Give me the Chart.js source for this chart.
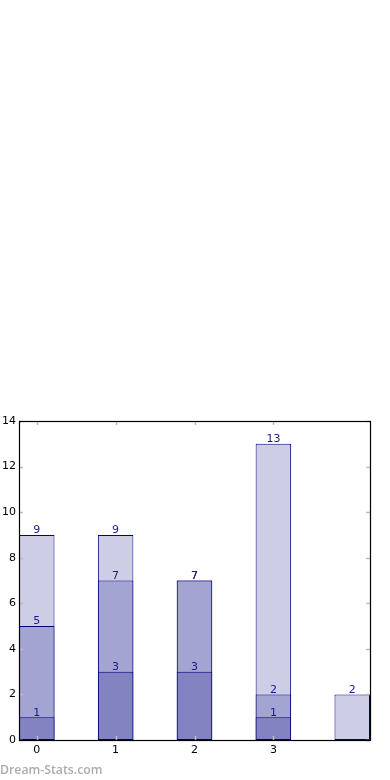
<!DOCTYPE html>
<html>
<head>
<meta charset="utf-8">
<script src="https://cdn.jsdelivr.net/npm/chart.js@4"></script>
<style>
  html, body { margin: 0; padding: 0; background: #fff; }
  #wrap { position: relative; width: 390px; height: 780px; }
  #mark { position: absolute; left: 0; top: 761px; font: 600 12.3px "Open Sans", sans-serif; color: #acacac; }
</style>
</head>
<body>
<div id="wrap">
  <canvas id="chart" width="390" height="780"></canvas>
  <div id="mark">Dream-Stats.com</div>
</div>
<script>
const positions = [0, 1, 2, 3, 4];
const xTickLabels = ['0', '1', '2', '3', ''];
const yTicks = [0, 2, 4, 6, 8, 10, 12, 14];
// cumulative heights, each bar drawn from zero and overlapped
const lowValues = [1, 3, 3, 1, null];
const midValues = [5, 7, 7, 2, null];
const topValues = [9, 9, 7, 13, 2];

const toPoints = vals => positions.map((x, i) => ({ x: x, y: vals[i] })).filter(p => p.y !== null);

const frameAndLabels = {
  id: 'frameAndLabels',
  afterDatasetsDraw(chart) {
    const { ctx, chartArea: a, scales } = chart;
    ctx.save();
    // value labels
    ctx.fillStyle = '#1a1a8c';
    ctx.font = '11px "DejaVu Sans", sans-serif';
    ctx.textAlign = 'center';
    ctx.textBaseline = 'bottom';
    chart.data.datasets.forEach((ds, di) => {
      chart.getDatasetMeta(di).data.forEach((bar, i) => {
        ctx.fillText(String(ds.data[i].y), bar.x, bar.y + 1);
      });
    });
    // inward ticks
    ctx.strokeStyle = '#bdbdbd';
    ctx.lineWidth = 1.5;
    const len = 4;
    yTicks.forEach(v => {
      const y = Math.round(scales.y.getPixelForValue(v)) + 0.5;
      ctx.beginPath();
      ctx.moveTo(a.left, y); ctx.lineTo(a.left + len, y);
      ctx.moveTo(a.right, y); ctx.lineTo(a.right - len, y);
      ctx.stroke();
    });
    positions.slice(0, 4).forEach(v => {
      const x = Math.round(scales.x.getPixelForValue(v)) + 0.5;
      ctx.beginPath();
      ctx.moveTo(x, a.top); ctx.lineTo(x, a.top + len);
      ctx.moveTo(x, a.bottom); ctx.lineTo(x, a.bottom - len);
      ctx.stroke();
    });
    // frame
    ctx.strokeStyle = '#000';
    ctx.lineWidth = 1.2;
    ctx.strokeRect(Math.round(a.left) + 0.5, Math.round(a.top) + 0.5,
      Math.round(a.right - a.left), Math.round(a.bottom - a.top));
    ctx.restore();
  }
};

const barStyle = {
  borderColor: '#000080',
  borderWidth: 1,
  borderSkipped: false,
  grouped: false,
  barPercentage: 0.45,
  categoryPercentage: 1
};

new Chart(document.getElementById('chart'), {
  type: 'bar',
  data: {
    datasets: [
      Object.assign({ label: 'low', data: toPoints(lowValues), backgroundColor: '#8383c1' }, barStyle),
      Object.assign({ label: 'mid', data: toPoints(midValues), backgroundColor: '#a4a4d2' }, barStyle),
      Object.assign({ label: 'top', data: toPoints(topValues), backgroundColor: '#cdcde5' }, barStyle)
    ]
  },
  options: {
    responsive: false,
    animation: false,
    layout: { padding: { top: 421, left: 0, right: 20, bottom: 20 } },
    plugins: { legend: { display: false }, tooltip: { enabled: false } },
    scales: {
      x: {
        type: 'linear',
        min: -0.225,
        max: 4.225,
        offset: false,
        grid: { display: false, drawTicks: false },
        border: { display: false },
        afterBuildTicks: s => { s.ticks = positions.map(v => ({ value: v })); },
        afterFit: s => { s.height = 20; },
        ticks: {
          padding: 4,
          color: '#000',
          font: { family: 'DejaVu Sans', size: 11 },
          callback: v => xTickLabels[v] ?? ''
        }
      },
      y: {
        min: 0,
        max: 14,
        grid: { display: false, drawTicks: false },
        border: { display: false },
        afterBuildTicks: s => { s.ticks = yTicks.map(v => ({ value: v })); },
        afterFit: s => { s.width = 19; },
        ticks: {
          padding: 3,
          color: '#000',
          font: { family: 'DejaVu Sans', size: 11 }
        }
      }
    }
  },
  plugins: [frameAndLabels]
});
</script>
</body>
</html>
